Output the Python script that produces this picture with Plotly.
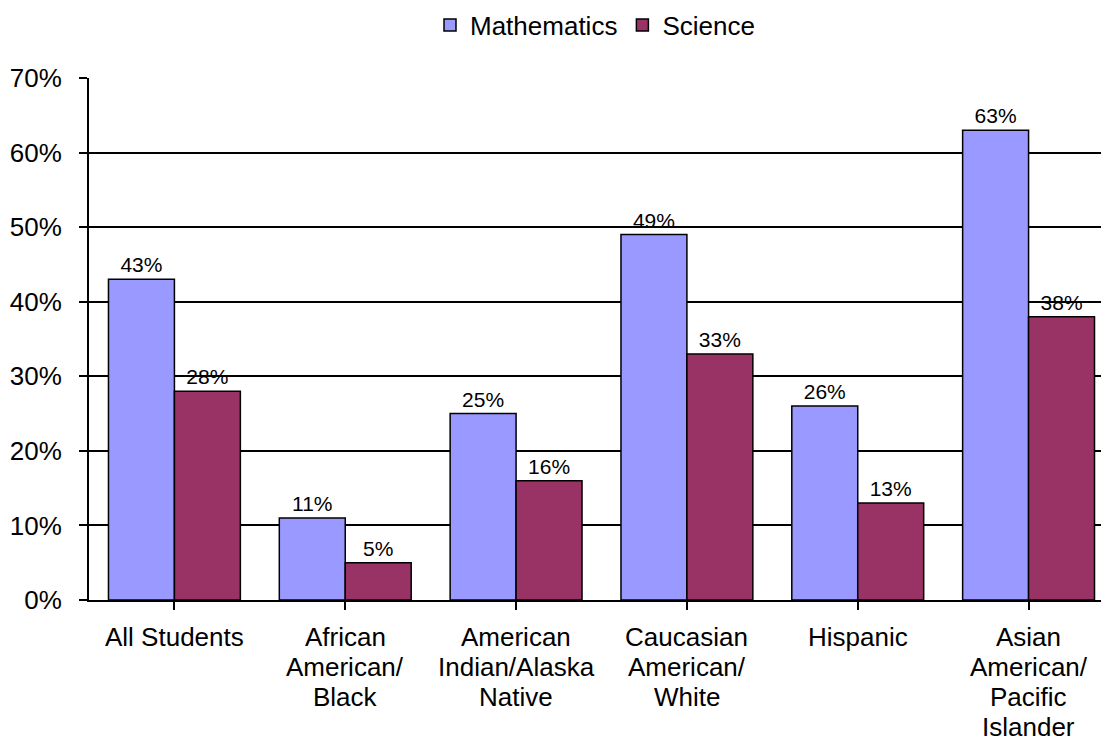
import plotly.graph_objects as go

categories = [
    "All Students",
    "African<br>American/<br>Black",
    "American<br>Indian/Alaska<br>Native",
    "Caucasian<br>American/<br>White",
    "Hispanic",
    "Asian<br>American/<br>Pacific<br>Islander",
]
math_pct = [43, 11, 25, 49, 26, 63]
science_pct = [28, 5, 16, 33, 13, 38]
y_ticks = [0, 10, 20, 30, 40, 50, 60, 70]
y_tick_labels = [f"{v}%" for v in y_ticks]

FONT = "Liberation Sans, Arial, sans-serif"
W, H = 1101, 743
x_idx = list(range(len(categories)))

fig = go.Figure()
for name, vals, color in [("Mathematics", math_pct, "#9999FF"),
                          ("Science", science_pct, "#993366")]:
    fig.add_trace(go.Bar(
        name=name, x=x_idx, y=vals,
        marker=dict(color=color, line=dict(color="black", width=1.5)),
        text=[f"{v}%" for v in vals], textposition="outside",
        textfont=dict(size=21, color="black", family=FONT),
        cliponaxis=False,
    ))

fig.update_layout(
    width=W, height=H,
    margin=dict(l=89, r=0, t=78, b=143),
    paper_bgcolor="white", plot_bgcolor="white",
    font=dict(family=FONT, color="black", size=26),
    barmode="group", bargap=0.228, bargroupgap=0,
    legend=dict(orientation="h", x=0.5, xanchor="center",
                y=(H - 25) / H, yanchor="middle", yref="container",
                font=dict(size=26), itemwidth=30, traceorder="normal",
                tracegroupgap=0),
    showlegend=True,
)

# Category labels: one annotation per line, tighter line spacing than tick labels allow
LINE_STEP = 30
for i, label in enumerate(categories):
    for j, line in enumerate(label.split("<br>")):
        fig.add_annotation(
            x=i, xref="x", y=0, yref="paper", yanchor="top",
            yshift=-(21 + j * LINE_STEP), text=line, showarrow=False,
            font=dict(size=26, color="black", family=FONT), borderpad=0,
        )

fig.update_xaxes(
    tickmode="array", tickvals=x_idx, ticktext=["" for _ in x_idx],
    range=[-0.5, 5.424], showgrid=False,
    showline=True, linecolor="black", linewidth=2,
    ticks="outside", tickson="boundaries", ticklen=8, tickcolor="black", tickwidth=1.5,
)
fig.update_yaxes(
    range=[0, 70], tickvals=y_ticks, ticktext=y_tick_labels,
    showgrid=True, gridcolor="black", gridwidth=1.5,
    showline=True, linecolor="black", linewidth=2,
    ticks="outside", ticklen=8, tickcolor="black", tickwidth=1.5,
    tickfont=dict(size=26), ticklabelstandoff=12, zeroline=False,
)

fig.write_html("out.html")
